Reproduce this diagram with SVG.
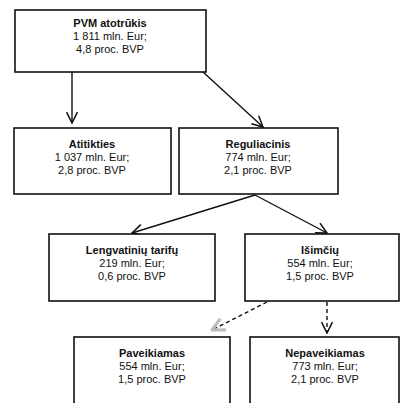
<svg xmlns="http://www.w3.org/2000/svg" width="400" height="403" viewBox="0 0 400 403">
<defs>
<style>
.box{fill:#fff;stroke:#111;stroke-width:1.6}
.t{font-family:"Liberation Sans",Arial,sans-serif;font-size:11px;fill:#111;text-anchor:middle}
.b{font-weight:bold}
.c{fill:none;stroke:#111;stroke-width:1.4}
.d{stroke-dasharray:4 3}
</style>
<marker id="v" viewBox="0 0 12 12" refX="11" refY="6" markerWidth="13" markerHeight="13" markerUnits="userSpaceOnUse" orient="auto">
<path d="M1,1 L11,6 L1,11" fill="none" stroke="#111" stroke-width="1.4"/>
</marker>
<marker id="vg" viewBox="0 0 12 12" refX="11" refY="6" markerWidth="15" markerHeight="15" markerUnits="userSpaceOnUse" orient="auto">
<path d="M1,1 L11,6 L1,11" fill="none" stroke="#bbb" stroke-width="2.5"/>
</marker>
</defs>
<rect width="400" height="403" fill="#fff"/>
<g id="connectors">
<line class="c" x1="72" y1="72" x2="72" y2="123" marker-end="url(#v)"/>
<line class="c" x1="203" y1="72" x2="263" y2="127" marker-end="url(#v)"/>
<line class="c" x1="255" y1="195" x2="132" y2="233" marker-end="url(#v)"/>
<line class="c" x1="255" y1="195" x2="327" y2="233" marker-end="url(#v)"/>
<line class="c d" x1="267" y1="302" x2="212" y2="330" stroke="#555" marker-end="url(#vg)"/>
<line class="c d" x1="327" y1="302" x2="327" y2="333" marker-end="url(#v)"/>
</g>
<g id="n1">
<rect class="box" x="15" y="10" width="191" height="62"/>
<text class="t b" x="110" y="27">PVM atotrūkis</text>
<text class="t" x="110" y="40">1 811 mln. Eur;</text>
<text class="t" x="110" y="53">4,8 proc. BVP</text>
</g>
<g id="n2">
<rect class="box" x="14" y="128" width="157" height="66"/>
<text class="t b" x="92" y="148">Atitikties</text>
<text class="t" x="92" y="161">1 037 mln. Eur;</text>
<text class="t" x="92" y="174">2,8 proc. BVP</text>
</g>
<g id="n3">
<rect class="box" x="179" y="128" width="159" height="66"/>
<text class="t b" x="258" y="148">Reguliacinis</text>
<text class="t" x="258" y="161">774 mln. Eur;</text>
<text class="t" x="258" y="174">2,1 proc. BVP</text>
</g>
<g id="n4">
<rect class="box" x="49" y="234" width="166" height="67"/>
<text class="t b" x="132" y="254">Lengvatinių tarifų</text>
<text class="t" x="132" y="267">219 mln. Eur;</text>
<text class="t" x="132" y="280">0,6 proc. BVP</text>
</g>
<g id="n5">
<rect class="box" x="245" y="234" width="154" height="67"/>
<text class="t b" x="320" y="254">Išimčių</text>
<text class="t" x="320" y="267">554 mln. Eur;</text>
<text class="t" x="320" y="280">1,5 proc. BVP</text>
</g>
<g id="n6">
<rect class="box" x="74" y="337" width="156" height="70"/>
<text class="t b" x="152" y="357">Paveikiamas</text>
<text class="t" x="152" y="370">554 mln. Eur;</text>
<text class="t" x="152" y="383">1,5 proc. BVP</text>
</g>
<g id="n7">
<rect class="box" x="250" y="337" width="149" height="70"/>
<text class="t b" x="325" y="357">Nepaveikiamas</text>
<text class="t" x="325" y="370">773 mln. Eur;</text>
<text class="t" x="325" y="383">2,1 proc. BVP</text>
</g>
</svg>
